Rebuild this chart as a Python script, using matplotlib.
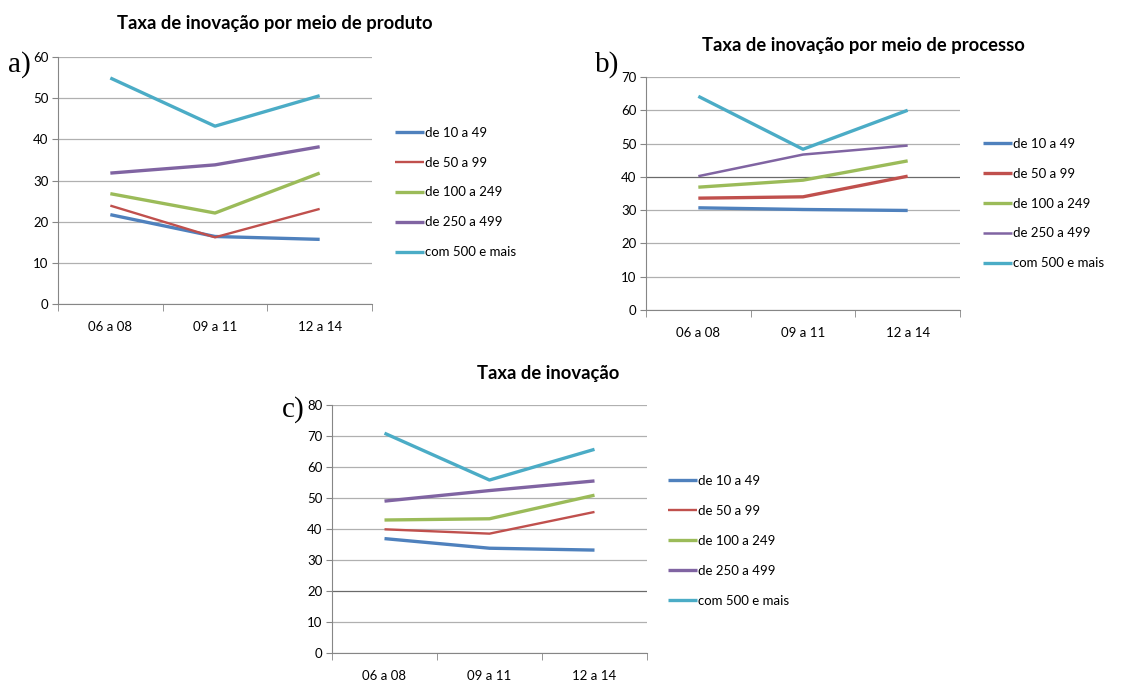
import matplotlib
matplotlib.use("Agg")
import matplotlib.pyplot as plt

plt.rcParams['font.family'] = ['Lato', 'DejaVu Sans']

periods = ['06 a 08', '09 a 11', '12 a 14']
groups = ['de 10 a 49', 'de 50 a 99', 'de 100 a 249', 'de 250 a 499', 'com 500 e mais']
colors = ['#4F81BD', '#C0504D', '#9BBB59', '#8064A2', '#4BACC6']

# a) produto
prod_10_49 = [21.7, 16.4, 15.7]
prod_50_99 = [23.9, 16.2, 23.1]
prod_100_249 = [26.8, 22.1, 31.8]
prod_250_499 = [31.8, 33.8, 38.2]
prod_500 = [54.9, 43.2, 50.6]

# b) processo
proc_10_49 = [30.7, 30.2, 29.9]
proc_50_99 = [33.6, 34.0, 40.2]
proc_100_249 = [36.9, 39.0, 44.8]
proc_250_499 = [40.2, 46.7, 49.4]
proc_500 = [64.2, 48.3, 60.0]

# c) total
tot_10_49 = [36.9, 33.8, 33.2]
tot_50_99 = [39.9, 38.5, 45.5]
tot_100_249 = [42.9, 43.3, 50.9]
tot_250_499 = [49.0, 52.4, 55.5]
tot_500 = [70.9, 55.8, 65.7]

fig = plt.figure(figsize=(11.44, 6.81), dpi=100)


def panel(rect, series, ymax, title, title_xy, letter, letter_xy, leg_xy, widths, dark_grid):
    ax = fig.add_axes(rect)
    x = list(range(len(periods)))
    for vals, name, c, w in zip(series, groups, colors, widths):
        ax.plot(x, vals, color=c, lw=w, label=name, solid_capstyle='butt')
    ax.set_xlim(-0.5, 2.5)
    ax.set_ylim(0, ymax)
    ax.set_yticks(range(0, ymax + 1, 10))
    ax.set_xticks(x)
    ax.set_xticklabels(periods)
    ax.set_xticks([-0.5, 0.5, 1.5, 2.5], minor=True)
    ax.tick_params(axis='x', which='major', length=0, pad=12, labelsize=9.5)
    ax.tick_params(axis='x', which='minor', length=5, color='#868686')
    ax.tick_params(axis='y', length=4, color='#868686', labelsize=9.5, pad=3)
    ax.yaxis.grid(True, color='#b0b0b0', lw=0.9)
    # scanned original has one darker grid line
    if dark_grid is not None:
        ax.get_ygridlines()[dark_grid // 10].set_color('#6a6a6a')
    ax.set_axisbelow(True)
    for s in ['top', 'right']:
        ax.spines[s].set_visible(False)
    ax.spines['left'].set_color('#868686')
    ax.spines['bottom'].set_color('#868686')
    ax.legend(loc='center left', bbox_to_anchor=leg_xy, bbox_transform=fig.transFigure,
              frameon=False, fontsize=9.5, handlelength=2.2, handletextpad=0.05,
              labelspacing=1.36, borderpad=0, borderaxespad=0)
    fig.text(title_xy[0], title_xy[1], title, ha='center', va='center',
             fontsize=13.2, fontweight='bold')
    fig.text(letter_xy[0], letter_xy[1], letter, ha='left', va='baseline',
             fontsize=21, family='Liberation Serif')
    return ax


W, H = 1144.0, 681.0

panel([58 / W, 1 - 304 / H, 314 / W, 247 / H],
      [prod_10_49, prod_50_99, prod_100_249, prod_250_499, prod_500], 60,
      'Taxa de inovação por meio de produto', (275 / W, 1 - 24 / H),
      'a)', (8 / W, 1 - 72 / H), (395 / W, 1 - 192.5 / H),
      [2.4, 1.7, 2.4, 2.4, 2.4], None)

panel([646 / W, 1 - 310 / H, 314 / W, 233 / H],
      [proc_10_49, proc_50_99, proc_100_249, proc_250_499, proc_500], 70,
      'Taxa de inovação por meio de processo', (863 / W, 1 - 45 / H),
      'b)', (595 / W, 1 - 72 / H), (983 / W, 1 - 203.5 / H),
      [2.4, 2.4, 2.4, 1.8, 2.4], 40)

panel([332 / W, 1 - 653 / H, 315 / W, 248 / H],
      [tot_10_49, tot_50_99, tot_100_249, tot_250_499, tot_500], 80,
      'Taxa de inovação', (548 / W, 1 - 373 / H),
      'c)', (282 / W, 1 - 417 / H), (668 / W, 1 - 541 / H),
      [2.4, 1.7, 2.4, 2.4, 2.4], 20)

fig.savefig('out.png', dpi=100)
